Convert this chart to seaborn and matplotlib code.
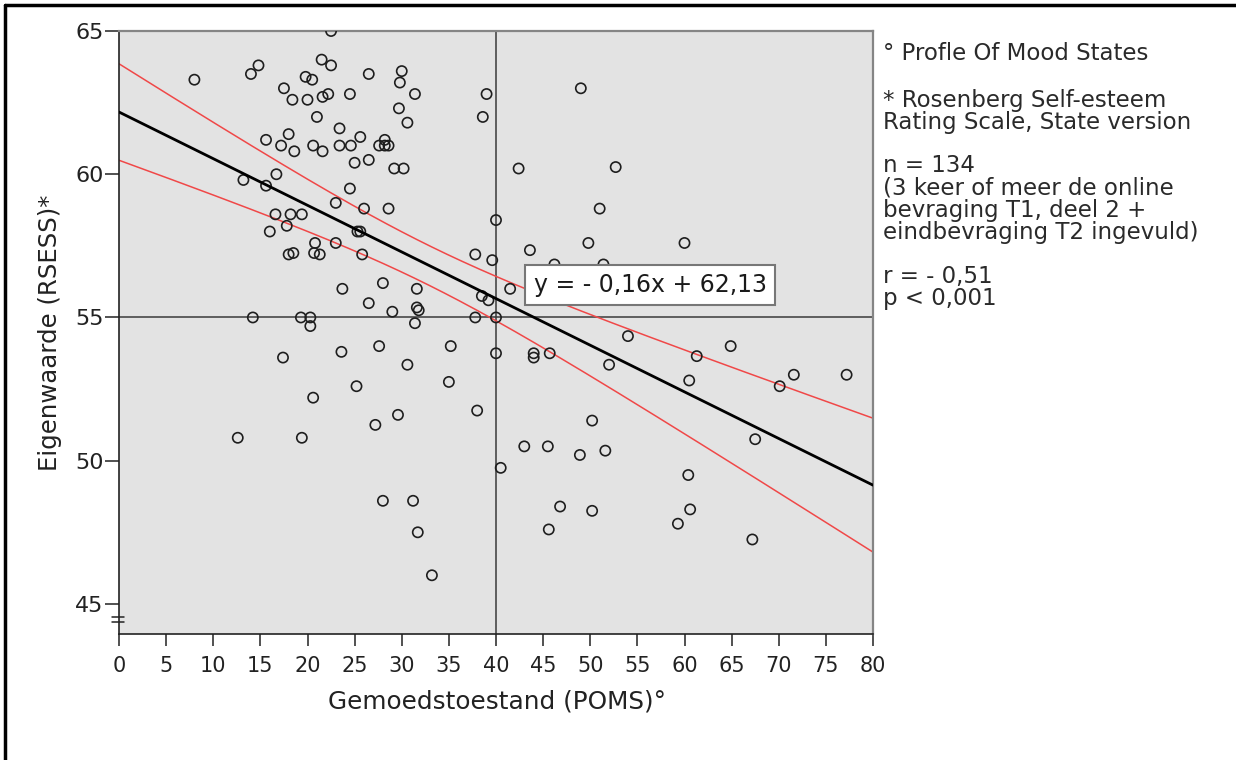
import numpy as np
import pandas as pd
import matplotlib
matplotlib.use("Agg")
import matplotlib.pyplot as plt
from matplotlib.lines import Line2D
import seaborn as sns

# ---- data ----
poms = [8.0, 14.0, 14.8, 22.5, 21.5, 22.5, 19.8, 20.5, 26.5, 30.0,
        29.8, 17.5, 18.4, 20.0, 21.6, 22.2, 24.5, 31.4, 29.7, 30.6,
        21.0, 23.4, 15.6, 18.0, 17.2, 18.6, 20.6, 21.6, 23.4, 24.6,
        25.6, 27.6, 28.2, 28.2, 28.6, 25.0, 26.5, 29.2, 30.2, 16.7,
        13.2, 15.6, 24.5, 23.0, 26.0, 28.6, 16.6, 18.2, 19.4, 17.8,
        16.0, 25.3, 25.6, 20.8, 23.0, 18.0, 18.5, 20.7, 21.3, 25.8,
        23.7, 28.0, 31.6, 26.5, 29.0, 31.6, 31.8, 14.2, 19.3, 20.3,
        20.3, 31.4, 17.4, 23.6, 27.6, 30.6, 25.2, 20.6, 29.6, 27.2,
        12.6, 19.4, 28.0, 31.2, 31.7, 33.2, 39.0, 38.6, 49.0, 42.4,
        52.7, 51.0, 40.0, 49.8, 60.0, 37.8, 39.6, 43.6, 46.2, 51.4,
        41.5, 38.5, 39.2, 37.8, 40.0, 35.2, 35.0, 38.0, 40.0, 44.0,
        44.0, 45.7, 52.0, 54.0, 61.3, 60.5, 64.9, 70.1, 71.6, 77.2,
        67.5, 50.2, 43.0, 45.5, 48.9, 51.6, 40.5, 60.4, 46.8, 50.2,
        45.6, 60.6, 59.3, 67.2]
rsess = [63.3, 63.5, 63.8, 65.0, 64.0, 63.8, 63.4, 63.3, 63.5, 63.6,
         63.2, 63.0, 62.6, 62.6, 62.7, 62.8, 62.8, 62.8, 62.3, 61.8,
         62.0, 61.6, 61.2, 61.4, 61.0, 60.8, 61.0, 60.8, 61.0, 61.0,
         61.3, 61.0, 61.2, 61.0, 61.0, 60.4, 60.5, 60.2, 60.2, 60.0,
         59.8, 59.6, 59.5, 59.0, 58.8, 58.8, 58.6, 58.6, 58.6, 58.2,
         58.0, 58.0, 58.0, 57.6, 57.6, 57.2, 57.25, 57.25, 57.2, 57.2,
         56.0, 56.2, 56.0, 55.5, 55.2, 55.35, 55.25, 55.0, 55.0, 55.0,
         54.7, 54.8, 53.6, 53.8, 54.0, 53.35, 52.6, 52.2, 51.6, 51.25,
         50.8, 50.8, 48.6, 48.6, 47.5, 46.0, 62.8, 62.0, 63.0, 60.2,
         60.25, 58.8, 58.4, 57.6, 57.6, 57.2, 57.0, 57.35, 56.85, 56.85,
         56.0, 55.75, 55.6, 55.0, 55.0, 54.0, 52.75, 51.75, 53.75, 53.75,
         53.6, 53.75, 53.35, 54.35, 53.65, 52.8, 54.0, 52.6, 53.0, 53.0,
         50.75, 51.4, 50.5, 50.5, 50.2, 50.35, 49.75, 49.5, 48.4, 48.25,
         47.6, 48.3, 47.8, 47.25]

x_ticks = list(range(0, 81, 5))
y_ticks = [45, 50, 55, 60, 65]
x_label = "Gemoedstoestand (POMS)°"
y_label = "Eigenwaarde (RSESS)*"
equation = "y = - 0,16x + 62,13"
notes = ["° Profle Of Mood States",
         "* Rosenberg Self-esteem",
         "Rating Scale, State version",
         "n = 134",
         "(3 keer of meer de online",
         "bevraging T1, deel 2 +",
         "eindbevraging T2 ingevuld)",
         "r = - 0,51",
         "p < 0,001"]
note_rows = [54, 100, 122, 165, 188, 210, 232, 276, 298]   # pixel rows

# ---- style ----
sns.set_theme(style="white")
plt.rcParams["font.family"] = ["DejaVu Sans"]

W, H = 1236, 760
fig = plt.figure(figsize=(W / 100, H / 100), dpi=100)
fig.patch.set_facecolor("white")
ax = fig.add_axes([119 / W, 1 - 634 / H, (873 - 119) / W, (634 - 31) / H])
ax.set_facecolor("#e3e3e3")

df = pd.DataFrame({"POMS": poms, "RSESS": rsess})

# reference lines
ax.axvline(40, color="#3a3a3a", lw=1.1, zorder=1)
ax.axhline(55, color="#3a3a3a", lw=1.1, zorder=1)

# scatter
sns.scatterplot(data=df, x="POMS", y="RSESS", ax=ax, marker="o", s=54,
                facecolors="none", edgecolor="#1e1e1e", linewidth=1.2,
                zorder=3, legend=False)

# linear fit and 95% CI of the mean
xv = np.asarray(poms, float)
yv = np.asarray(rsess, float)
n = len(xv)
b1, b0 = np.polyfit(xv, yv, 1)
resid = yv - (b0 + b1 * xv)
s = np.sqrt(np.sum(resid ** 2) / (n - 2))
sxx = np.sum((xv - xv.mean()) ** 2)
t = 1.978
xs = np.linspace(0, 80, 300)
yhat = b0 + b1 * xs
half = t * s * np.sqrt(1 / n + (xs - xv.mean()) ** 2 / sxx)
fit = pd.DataFrame({"x": xs, "fit": yhat, "lo": yhat - half, "hi": yhat + half})
sns.lineplot(data=fit, x="x", y="hi", ax=ax, color="#f04848", lw=1.1, zorder=2)
sns.lineplot(data=fit, x="x", y="lo", ax=ax, color="#f04848", lw=1.1, zorder=2)
sns.lineplot(data=fit, x="x", y="fit", ax=ax, color="black", lw=2.0, zorder=4)

ax.set_xlim(0, 80)
ax.set_ylim(43.95, 65)
ax.set_xticks(x_ticks)
ax.set_xticklabels([str(v) for v in x_ticks])
ax.set_yticks(y_ticks)
ax.set_yticklabels([str(v) for v in y_ticks])
ax.set_xlabel("")
ax.set_ylabel("")
ax.tick_params(axis="y", left=True, direction="out", length=10, width=1.1,
               color="#222222", labelsize=16, pad=1, labelcolor="#222222")
ax.tick_params(axis="x", bottom=True, direction="out", length=8.6, width=1.1,
               color="#222222", labelsize=15, pad=7, labelcolor="#222222")

for side in ["left", "bottom"]:
    ax.spines[side].set_color("#222222")
    ax.spines[side].set_linewidth(1.2)
for side in ["top", "right"]:
    ax.spines[side].set_color("#858585")
    ax.spines[side].set_linewidth(1.6)

# axis-break marks on y axis
trans = ax.get_yaxis_transform()
for yb in (44.55, 44.38):
    ax.plot([-7 / 754, 5 / 754], [yb, yb], color="#222222", lw=1.1,
            transform=trans, clip_on=False, zorder=5)

# equation label
ax.text((650 - 119) / 754, (634 - 285) / 603, equation, transform=ax.transAxes,
        ha="center", va="center", fontsize=17, color="#1a1a1a", zorder=6,
        bbox=dict(boxstyle="square,pad=0.35", facecolor="white",
                  edgecolor="#777777", linewidth=1.5))

# axis labels
fig.text(50 / W, 1 - 333 / H, y_label, rotation=90, ha="center", va="center",
         fontsize=17.6, color="#222222")
fig.text(497 / W, 1 - 701 / H, x_label, ha="center", va="center",
         fontsize=17.8, color="#222222")

# notes on the right
for txt, row in zip(notes, note_rows):
    fig.text(883 / W, 1 - row / H, txt, ha="left", va="center",
             fontsize=16.5, color="#2a2a2a")

# outer frame (left and top)
fig.add_artist(Line2D([5 / W, 5 / W], [0, 1 - 5 / H], color="black", lw=2.5))
fig.add_artist(Line2D([5 / W, 1], [1 - 5 / H, 1 - 5 / H], color="black", lw=2.5))

fig.savefig("out.png", dpi=100)
